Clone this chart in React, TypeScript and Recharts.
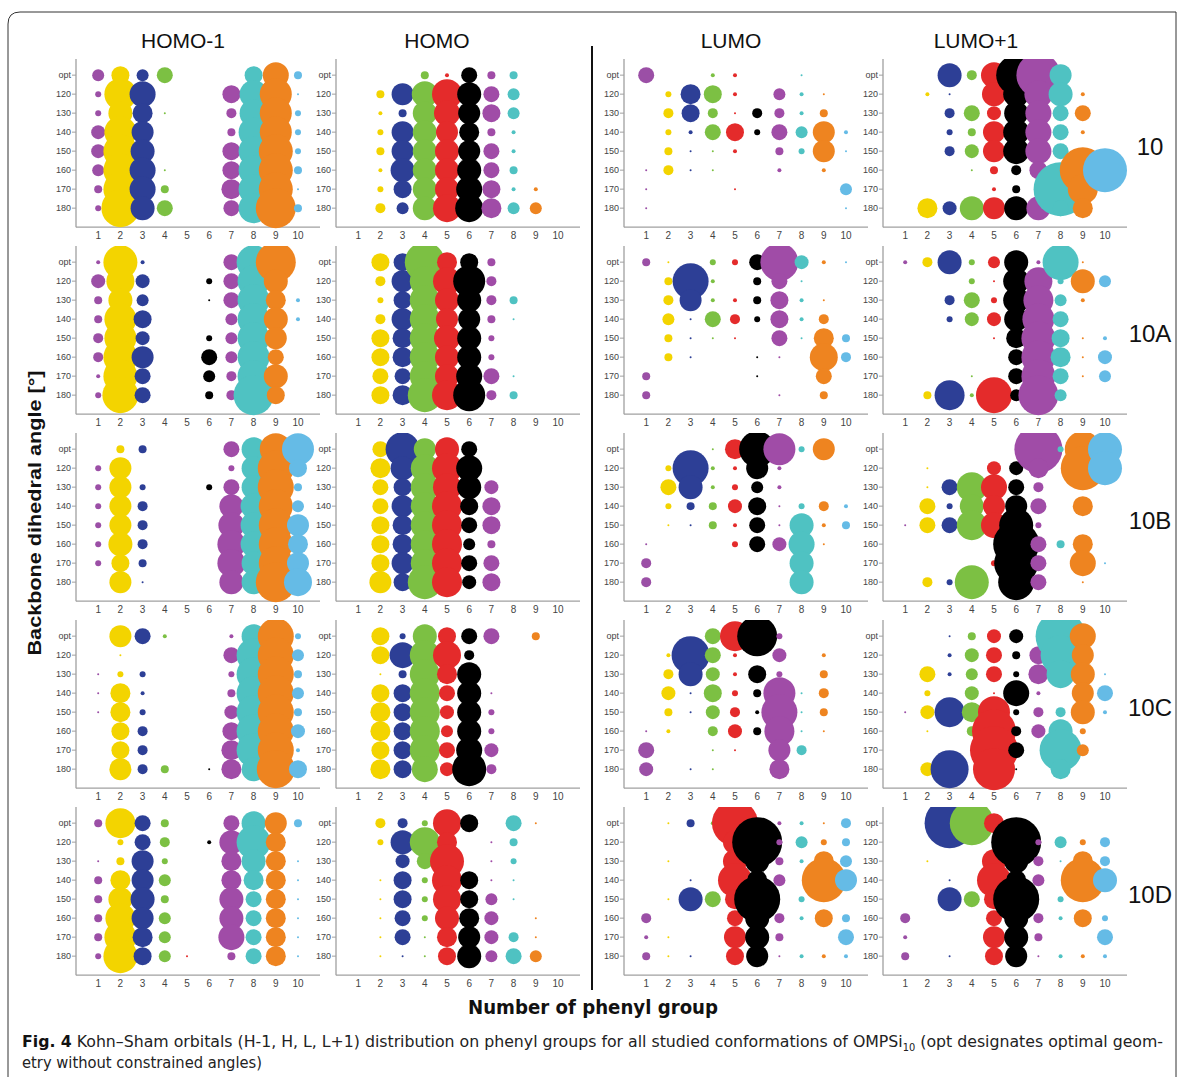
import { ScatterChart, Scatter, XAxis, YAxis, ZAxis } from 'recharts';

const angles = ['opt', '120', '130', '140', '150', '160', '170', '180'];
const groups = [1, 2, 3, 4, 5, 6, 7, 8, 9, 10];
const groupColors = ['#9b4fa6', '#f3d400', '#2d3f96', '#7cc043', '#e42b2b', '#000000', '#a04ca7', '#4fc2c2', '#ee8420', '#65bbe6'];
const orbitals = ['HOMO-1', 'HOMO', 'LUMO', 'LUMO+1'];
const conformations = ['10', '10A', '10B', '10C', '10D'];

// one string per angle row (opt,120..180), one base-36 char per phenyl group 1..10
// char = bubble amplitude (0 = no bubble)
const homo1_10 = ['69680009d4', '3gd0009eg1', '3ca1005eg3', '7gb0004fg3', '7hc0009fh3', '6hd1009fh4', '4hd400afh1', '3jc8008fk4'];
const homo_10 = ['0004284400', '04bdfc8600', '024cdb9600', '03bcba4200', '04bccb8200', '02cccc8400', '039ccd9220', '056ceea660'];
const lumo_10 = ['8002200100', '03a9206210', '0595155240', '03289386b2', '04112043b1', '1511002020', '1000100006', '1000000001'];
const lumo1_10 = ['00c5dkmb00', '0210cdec20', '00587cd880', '0034bdd820', '0057bdd800', '00014590nm', '0000240rf0', '0a7cbcc8a0'];

const homo1_10A = ['2h20008hk0', '7e70038gc0', '4c60018ga2', '4g90006gc2', '5g70036gb0', '5hb0086g80', '2h80065gc0', '3i80045k90'];
const homo_10A = ['099ka94000', '05bfeg5000', '039fcc5400', '05bfbb4100', '09afdc3000', '09afcc3000', '088fcd8100', '09ahfg5400'];
const lumo_10A = ['410338j721', '04i2048100', '05b2249210', '0618539250', '04111081a4', '04100110e5', '4000010080', '4000001040'];
const lumo1_10A = ['25c36c2i10', '00031de3c6', '00583df620', '00377cg800', '00001ah912', '000008ha17', '000108h816', '04f2i6k600'];

const homo1_10B = ['0440008cgg', '3b00003ci9', '3b30038ci4', '3b5000cdh6', '3b5000ddhb', '3c5000edha', '394000echb', '0b1000ccke'];
const homo_10B = ['08hbc80000', '0acefd0000', '089eec7000', '08bef99000', '09aef89000', '09aef64000', '09bef88000', '0b9hf79000'];
const lumo_10B = ['0001aig3b0', '03i22b2000', '08c2362000', '0344791352', '0114281c24', '1000387d10', '5000000c00', '5000000c00'];
const lumo1_10B = ['000000o3ih', '010077a0mh', '018fd85000', '083cbb80a0', '188fdh3000', '00000n84a0', '00003m80d1', '053h0i8010'];

const homo1_10C = ['0b82002ci3', '0100008hi6', '1330003hi4', '1a20004hi6', '1a30007hi4', '0950009hi7', '095000ahi2', '0b5401acj9'];
const homo_10C = ['093c988040', '09dfe50000', '014fac0000', '099f8c1000', '0a9f7c3000', '0a9f6c3000', '099f8d7000', '0a9d7h5000'];
const lumo_10C = ['0008fk3000', '02j8207020', '05c7293040', '071934g150', '041752i140', '120574f110', '800110b500', '701100a000'];
const lumo1_10C = ['0014770pd0', '0027849kb0', '082683aec1', '03071d20b8', '17fag355c2', '0105m57c30', '0000o80l60', '07j0l10a00'];

const homo1_10D = ['4f84008cb4', '038502cha0', '14b300aca1', '4ab600aaa1', '4cc400c8a1', '4fb600c8a1', '4ga600d8a1', '3h961048a1'];
const homo_10D = ['0553e90810', '03cfa01400', '0078h01300', '0193f91100', '0193e96100', '0183ca7010', '0181ab7510', '01119c6860'];
const lumo_10D = ['0142n02215', '0000cp3634', '0100cc42a6', '0010ha60mb', '01c8an0300', '50008c5294', '2100bc4008', '41109b1222'];
const lumo1_10D = ['00pma00000', '00000p3635', '0100cc51a5', '0010ha60mc', '00c8an0300', '50008c5293', '2000bc4008', '40109b1222'];

const grid = [
  [homo1_10, homo_10, lumo_10, lumo1_10],
  [homo1_10A, homo_10A, lumo_10A, lumo1_10A],
  [homo1_10B, homo_10B, lumo_10B, lumo1_10B],
  [homo1_10C, homo_10C, lumo_10C, lumo1_10C],
  [homo1_10D, homo_10D, lumo_10D, lumo1_10D],
];

const X_STEP = 22.2;
const Y_STEP = 19;
const Y_TOP = 0.85;
const Y_W = 30;
const X_H = 22;
const PLOT_W = 11 * X_STEP;
const PLOT_H = (8 + Y_TOP) * Y_STEP;
const tick1X = [98, 358, 646, 905];
const OPT_Y0 = 75;
const ROW_GAP = 187;
const MAX_AMP = 35;

const FONT = '"Liberation Sans", Arial, sans-serif';
const NARROW = '"DejaVu Sans Condensed", "Liberation Sans Narrow", "Liberation Sans", sans-serif';

function seriesFor(rows: string[], g: number) {
  return rows
    .map((s, i) => {
      const a = parseInt(s[g - 1], 36);
      return { x: g, y: i, z: a * a };
    })
    .filter((d) => d.z > 0);
}

function Panel({ rows, left, top }: { rows: string[]; left: number; top: number }) {
  return (
    <div style={{ position: 'absolute', left, top }}>
      <ScatterChart
        width={Y_W + PLOT_W}
        height={PLOT_H + X_H}
        margin={{ top: 0, right: 0, bottom: 0, left: 0 }}
        style={{ fontFamily: FONT, overflow: 'visible' }}
      >
        <XAxis
          type="number"
          dataKey="x"
          domain={[0, 11]}
          ticks={groups}
          interval={0}
          height={X_H}
          tickLine={false}
          tickSize={3}
          axisLine={{ stroke: '#a0a0a0', strokeWidth: 1.3 }}
          tick={{ fontSize: 10, fill: '#444' }}
        />
        <YAxis
          type="number"
          dataKey="y"
          domain={[-Y_TOP, 8]}
          reversed
          ticks={[0, 1, 2, 3, 4, 5, 6, 7]}
          interval={0}
          width={Y_W}
          tickSize={4}
          tickMargin={1}
          tickFormatter={(v: number) => angles[v]}
          axisLine={{ stroke: '#a0a0a0', strokeWidth: 1.3 }}
          tickLine={{ stroke: '#a0a0a0' }}
          tick={{ fontSize: 9, fill: '#444' }}
        />
        <ZAxis type="number" dataKey="z" domain={[0, MAX_AMP * MAX_AMP]} range={[0, Math.PI * MAX_AMP * MAX_AMP]} />
        {groups.map((g, k) => (
          <Scatter key={g} data={seriesFor(rows, g)} fill={groupColors[k]} isAnimationActive={false} />
        ))}
      </ScatterChart>
    </div>
  );
}

export default function App() {
  const titleX = [183, 437, 731, 976];
  return (
    <div style={{ position: 'absolute', left: 0, top: 0, width: 1181, height: 1077, background: '#fff', fontFamily: FONT }}>
      <svg width={1181} height={1077} style={{ position: 'absolute', left: 0, top: 0 }}>
        <path d="M 8 1077 V 24 Q 8 12 20 12 H 1176 V 1077" fill="none" stroke="#333" strokeWidth={1} />
        <line x1={592} y1={46} x2={592} y2={990} stroke="#111" strokeWidth={2} />
        {orbitals.map((t, i) => (
          <text key={t} x={titleX[i]} y={48} textAnchor="middle" fontSize={21} fill="#111" fontFamily={FONT}>
            {t}
          </text>
        ))}
        {conformations.map((t, r) => (
          <text key={t} x={1150} y={OPT_Y0 + ROW_GAP * r + 80} textAnchor="middle" fontSize={24} fill="#111" fontFamily={FONT}>
            {t}
          </text>
        ))}
        <text
          x={0}
          y={0}
          transform="translate(41 513) rotate(-90)"
          textAnchor="middle"
          fontSize={19}
          fontWeight="bold"
          fill="#111"
          fontFamily={FONT}
          textLength={285}
          lengthAdjust="spacingAndGlyphs"
        >
          Backbone dihedral angle [°]
        </text>
        <text x={593} y={1014} textAnchor="middle" fontSize={20} fontWeight="bold" fill="#111" fontFamily={NARROW} textLength={250} lengthAdjust="spacingAndGlyphs">
          Number of phenyl group
        </text>
        <text x={22} y={1047} fontSize={16} fill="#222" fontFamily={NARROW} textLength={1141} lengthAdjust="spacingAndGlyphs">
          <tspan fontWeight="bold" fill="#111">Fig. 4</tspan>
          <tspan>{'  Kohn–Sham orbitals (H-1, H, L, L+1) distribution on phenyl groups for all studied conformations of OMPSi'}</tspan>
          <tspan fontSize={10} dy={4}>10</tspan>
          <tspan dy={-4}>{' (opt designates optimal geom-'}</tspan>
        </text>
        <text x={22} y={1068} fontSize={16} fill="#222" fontFamily={NARROW} textLength={240} lengthAdjust="spacingAndGlyphs">
          etry without constrained angles)
        </text>
      </svg>
      {grid.map((row, r) =>
        row.map((rows, c) => (
          <Panel
            key={`${r}-${c}`}
            rows={rows}
            left={tick1X[c] - X_STEP - Y_W}
            top={OPT_Y0 + ROW_GAP * r - Y_TOP * Y_STEP}
          />
        ))
      )}
    </div>
  );
}
